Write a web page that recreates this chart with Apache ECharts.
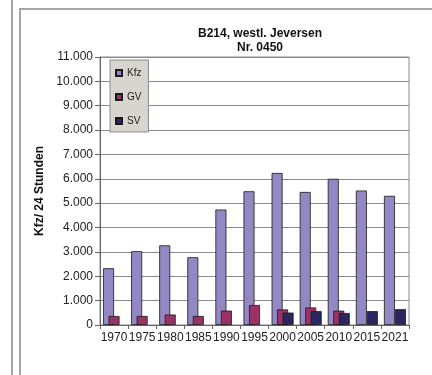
<!DOCTYPE html>
<html lang="de">
<head>
    <meta charset="UTF-8">
    <title></title>
    <style>
        * { margin: 0; padding: 0; box-sizing: border-box; }
        html, body { width: 432px; height: 375px; background: #fff; overflow: hidden; }
        #chart { width: 432px; height: 375px; }
    </style>
    <script src="https://cdn.jsdelivr.net/npm/echarts@6/dist/echarts.min.js"></script>
</head>
<body>
<div id="chart"></div>
<script>
    var years = ['1970', '1975', '1980', '1985', '1990', '1995', '2000', '2005', '2010', '2015', '2021']
    var kfz = [2330, 3030, 3270, 2780, 4740, 5490, 6240, 5460, 6000, 5520, 5300]
    var gv = [370, 370, 430, 370, 590, 820, 640, 720, 590, null, null]
    var sv = [null, null, null, null, null, null, 510, 570, 490, 570, 650]

    var font = '"Liberation Sans", Arial, sans-serif'
    var myChart = echarts.init(document.getElementById('chart'))

    function fmt(v) {
        return String(v).replace(/\B(?=(\d{3})+(?!\d))/g, '.')
    }

    function barSeries(name, data, color) {
        return {
            name: name,
            type: 'bar',
            data: data,
            barWidth: 11,
            barGap: '-50%',
            itemStyle: {color: color, borderColor: '#1a1a1a', borderWidth: 0.8}
        }
    }

    var option = {
        animation: false,
        textStyle: {fontFamily: font},
        title: {
            text: 'B214, westl. Jeversen\nNr. 0450',
            left: 255,
            textAlign: 'center',
            top: 22,
            textStyle: {fontSize: 12, fontWeight: 'bold', color: '#111', lineHeight: 14, fontFamily: font}
        },
        graphic: [
            {type: 'rect', shape: {x: 20, y: 9, width: 430, height: 380}, style: {fill: 'none', stroke: '#a6a6a6', lineWidth: 2}},
            {type: 'line', shape: {x1: 12, y1: 0, x2: 12, y2: 375}, style: {stroke: '#a6a6a6', lineWidth: 2}}
        ],
        legend: {
            orient: 'vertical',
            left: 110,
            top: 60,
            padding: [7, 7, 5, 5],
            itemGap: 12,
            itemWidth: 6,
            itemHeight: 6,
            itemTextGap: 2,
            icon: 'rect',
            backgroundColor: '#d8d5ce',
            borderColor: '#8c8c8c',
            borderWidth: 1,
            textStyle: {fontSize: 10, lineHeight: 12, color: '#222', fontFamily: font}
        },
        grid: {
            left: 100, right: 23, top: 57, bottom: 50,
            show: true, borderColor: '#8a8a8a', borderWidth: 1, backgroundColor: '#fff'
        },
        xAxis: {
            type: 'category',
            data: years,
            axisLine: {lineStyle: {color: '#666', width: 1}},
            axisTick: {show: true, length: 4, lineStyle: {color: '#666'}},
            axisLabel: {interval: 0, fontSize: 12, color: '#222', margin: 7, fontFamily: font}
        },
        yAxis: {
            type: 'value',
            min: 0,
            max: 11000,
            interval: 1000,
            name: 'Kfz/ 24 Stunden',
            nameLocation: 'middle',
            nameGap: 52,
            nameTextStyle: {fontSize: 12, fontWeight: 'bold', color: '#111', fontFamily: font},
            axisLine: {show: true, lineStyle: {color: '#666', width: 1}},
            axisTick: {show: true, length: 5, lineStyle: {color: '#666'}},
            axisLabel: {formatter: fmt, fontSize: 12, color: '#222', margin: 7, fontFamily: font},
            splitLine: {lineStyle: {color: '#8a8a8a', width: 1}}
        },
        series: [
            barSeries('Kfz', kfz, '#9488c4'),
            barSeries('GV', gv, '#993366'),
            barSeries('SV', sv, '#2b2560')
        ]
    }
    myChart.setOption(option)
</script>
</body>
</html>
